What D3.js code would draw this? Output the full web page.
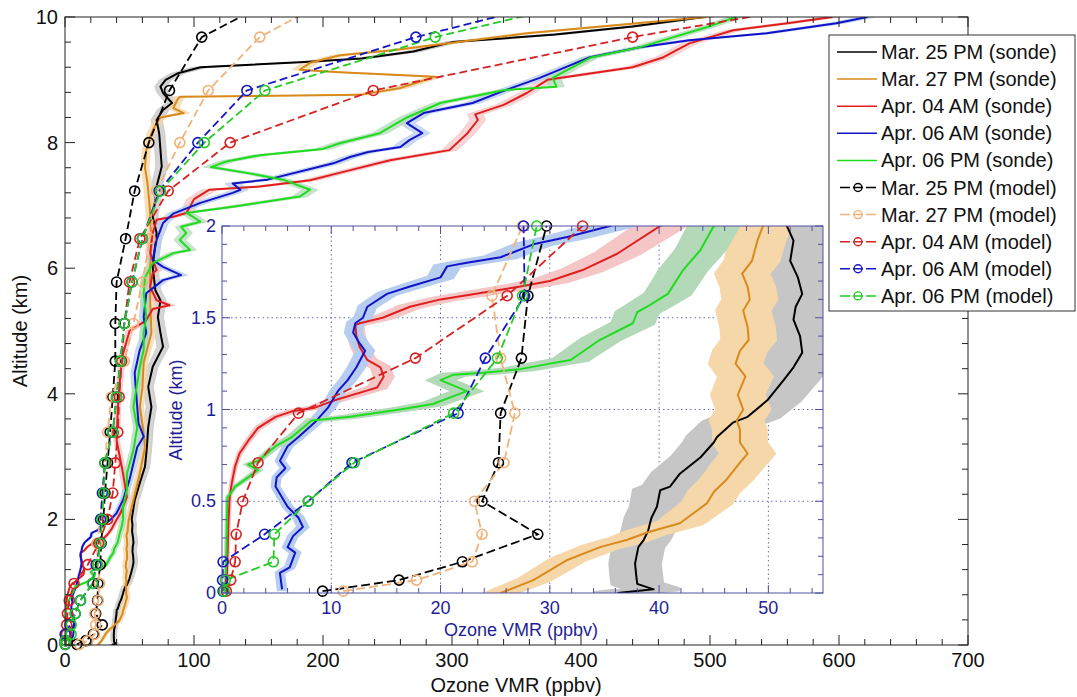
<!DOCTYPE html>
<html><head><meta charset="utf-8">
<script src="https://cdn.jsdelivr.net/npm/d3@7"></script>
<style>
body{margin:0;background:#fff;}
svg{display:block;}
text{font-family:"Liberation Sans",Arial,sans-serif;}
</style>
</head><body>
<svg id="c" width="1077" height="697"></svg>
<script>
// ---------------- DATA ----------------
const sondeNames = ["Mar. 25 PM (sonde)","Mar. 27 PM (sonde)","Apr. 04 AM (sonde)","Apr. 06 AM (sonde)","Apr. 06 PM (sonde)"];
const modelNames = ["Mar. 25 PM (model)","Mar. 27 PM (model)","Apr. 04 AM (model)","Apr. 06 AM (model)","Apr. 06 PM (model)"];

// sonde profiles: [altitude km, ozone ppbv]
const sondeMar25PM = [[0,36.2],[0.02,39.5],[0.05,38],[0.1,37.9],[0.16,37.8],[0.25,38.1],[0.29,38.6],[0.34,39],[0.41,39.3],[0.47,39.8],[0.56,40.1],[0.58,41],[0.65,41.9],[0.74,43.8],[0.82,45],[0.85,45.3],[0.93,46.8],[0.96,48.1],[1.05,49.9],[1.16,51.4],[1.23,52.3],[1.31,53.1],[1.4,52.9],[1.49,52.3],[1.56,52.5],[1.63,53.1],[1.72,52.7],[1.81,52],[1.92,52.3],[2.0,51.7],[2.3,54],[2.58,58],[2.84,62],[3.15,63.5],[3.47,64.5],[3.79,67],[4.11,64.5],[4.43,68],[4.75,76],[4.97,74],[5.22,72],[5.49,74],[5.65,70],[6.02,68],[6.56,71],[6.82,68],[7.09,70],[7.3,71],[7.62,75],[7.88,74],[8.15,73],[8.36,71],[8.52,76],[8.63,83],[8.79,76],[8.89,74],[9.0,78],[9.1,87],[9.2,105],[9.28,182],[9.34,230],[9.45,270],[9.6,300],[9.72,380],[9.85,440],[10.0,495]];
const sondeMar27PM = [[0,25.5],[0.07,28.5],[0.18,31.6],[0.25,34.6],[0.29,37.1],[0.33,38.9],[0.38,41.9],[0.49,44.4],[0.55,45],[0.62,46.2],[0.71,47.4],[0.76,48.1],[0.82,47.4],[0.89,47.4],[0.94,47.1],[1.0,47.7],[1.08,47.2],[1.18,47.9],[1.25,47.0],[1.32,47.4],[1.38,48.2],[1.45,48.1],[1.54,47.7],[1.6,48.3],[1.67,48.1],[1.74,47.6],[1.81,48.5],[1.92,49],[2.0,49.5],[2.3,53],[2.73,58],[3.15,62],[3.37,61],[3.79,58],[4.1,60],[4.5,61],[4.97,67],[5.5,66],[6.0,66],[6.4,67],[6.9,66],[7.35,64],[7.6,62],[7.88,63],[8.15,67],[8.31,71],[8.4,74],[8.47,92],[8.55,84],[8.68,87],[8.73,89],[8.76,229],[8.87,260],[9.05,287],[9.12,213],[9.16,182],[9.27,190],[9.39,213],[9.47,254],[9.74,358],[10.0,497]];
const sondeApr04AM = [[0,0.4],[0.2,0.5],[0.4,0.6],[0.52,0.7],[0.6,0.9],[0.69,1.2],[0.76,1.6],[0.83,2.4],[0.9,3.3],[0.96,4.9],[0.99,6.4],[1.01,8.5],[1.05,10.3],[1.1,13.1],[1.12,14.2],[1.18,14.8],[1.23,14.5],[1.27,13.3],[1.34,12.6],[1.4,12.3],[1.46,12.2],[1.47,12.6],[1.5,14.7],[1.56,17.2],[1.6,20],[1.67,27.3],[1.7,30],[1.76,33],[1.85,36.2],[2.0,40.1],[2.1,43],[2.36,48],[2.73,45],[3.26,40],[3.79,41],[4.33,43],[4.64,45],[5.0,50],[5.17,63],[5.35,68],[5.41,81],[5.49,71],[5.7,66],[5.92,68],[5.97,71],[6.24,66],[6.56,68],[6.77,71],[6.82,84],[6.88,94],[6.98,97],[7.1,100],[7.25,112],[7.3,151],[7.4,190],[7.53,215],[7.72,252],[7.88,298],[8.15,312],[8.36,320],[8.45,318],[8.6,340],[8.79,358],[9.0,374],[9.2,440],[9.36,464],[9.58,484],[9.79,518],[9.9,560],[10.0,595]];
const sondeApr06AM = [[0.02,5.5],[0.11,5.3],[0.14,6.2],[0.22,6.7],[0.25,6.0],[0.31,6.5],[0.36,7.4],[0.41,7.0],[0.47,6.0],[0.58,4.9],[0.63,5.0],[0.68,5.8],[0.72,5.3],[0.8,6.0],[0.85,7.0],[0.93,8.5],[1.01,9.7],[1.1,10.6],[1.16,11.5],[1.23,12.3],[1.32,13.1],[1.36,12.6],[1.42,12],[1.47,12.2],[1.5,12.9],[1.56,13.3],[1.63,15.1],[1.67,17.2],[1.72,20],[1.78,20.6],[1.8,22.4],[1.83,25.5],[1.9,28.5],[1.94,31.6],[2.0,35.5],[2.1,40],[2.31,45],[2.63,50],[3.15,56],[3.32,61],[3.53,57],[3.79,56],[4.33,54],[4.7,58],[4.97,63],[5.22,61],[5.6,63],[5.81,76],[5.89,90],[6.02,76],[6.13,68],[6.45,71],[6.72,76],[6.87,84],[7.04,105],[7.2,130],[7.25,136],[7.35,130],[7.41,157],[7.67,208],[7.77,221],[7.85,235],[7.93,260],[8.04,267],[8.15,277],[8.31,265],[8.47,278],[8.63,316],[8.84,342],[9.03,368],[9.36,407],[9.52,446],[9.63,484],[9.74,544],[9.9,598],[10.0,622]];
const sondeApr06PM = [[0,0.3],[0.2,0.4],[0.4,0.45],[0.52,0.5],[0.58,1.2],[0.63,2.4],[0.67,3.3],[0.7,2.4],[0.72,3.3],[0.8,4.9],[0.85,6.4],[0.94,8.2],[0.96,11.7],[1.0,16.3],[1.03,19.3],[1.1,22.4],[1.16,20],[1.19,21.2],[1.2,23.9],[1.22,27.3],[1.25,30],[1.27,31.9],[1.38,34.6],[1.47,37.6],[1.53,38],[1.56,38.9],[1.63,40.8],[1.76,42.2],[1.87,43.8],[2.0,45],[2.2,45],[2.47,48],[2.73,48],[3.1,53],[3.47,56],[3.79,53],[4.17,56],[4.43,58],[4.7,61],[4.97,61],[5.22,63],[5.6,61],[5.85,62],[6.08,68],[6.24,84],[6.29,97],[6.45,89],[6.56,94],[6.66,90],[6.74,105],[6.82,99],[6.88,94],[6.98,130],[7.14,182],[7.25,190],[7.41,169],[7.51,143],[7.61,113],[7.7,125],[7.8,151],[7.9,200],[7.99,213],[8.15,244],[8.4,265],[8.63,291],[8.84,342],[8.89,381],[9.03,378],[9.35,407],[9.52,446],[9.84,498],[10.0,520]];
const sondeRelUncertainty = [0.06,0.05,0.055,0.055,0.05];
const sondeMaxUncertainty = 6; // ppbv

// model levels (km) and values (ppbv)
const modelLevels = [0.01,0.07,0.17,0.32,0.5,0.71,0.98,1.28,1.62,2.0,2.42,2.9,3.39,3.95,4.52,5.12,5.78,6.47,7.23,8.0,8.83,9.68,10.6];
const modelMar25PM = [9.2,16.2,22.0,28.9,23.8,25.3,25.5,27.4,28.0,29.7,31,33,35,37,39,39,40,47,54,65,81,106,192];
const modelMar27PM = [11.1,17.8,22.9,23.8,23.1,25.8,26.8,25.5,24.7,27.5,29,31,33,36,46,53,60,66,71,89,111,151,234];
const modelApr04AM = [0.4,0.8,1.2,1.3,1.9,3.3,7.0,17.7,26.1,33,37,39,41,42,44,46,50,58,80,128,239,440,700];
const modelApr06AM = [0.1,0.05,0.1,3.9,7.9,11.9,21.6,24.1,27.7,27.6,29,31,37,40,43,46,52,60,73,103,141,272,450];
const modelApr06PM = [0.2,0.3,4.7,4.8,7.9,12.1,21.2,25.2,27.5,28.8,30,31,37,40,43,46,52,60,74,108,155,287,477];

// ticks
const mainXTicks = [0,100,200,300,400,500,600,700];
const mainYTicks = [0,2,4,6,8,10];
const insetXTicks = [0,10,20,30,40,50];
const insetYTicks = [0,0.5,1,1.5,2];
const insetYTickLabels = ["0","0.5","1","1.5","2"];

// ---------------- STYLE ----------------
const sondeColors = ["#000000","#d98a1c","#e01e1e","#1212c8","#1fdc1f"];
const bandColors  = ["#c6c6c6","#f6d7aa","#f5c6c6","#b6cdf0","#b3d9b9"];
const modelColors = ["#000000","#f2b27a","#d62222","#1616c8","#22cc22"];
const insetInk = "#1e1e96";
const insetFrame = "#5050a0";

const sondeSeries = [sondeMar25PM,sondeMar27PM,sondeApr04AM,sondeApr06AM,sondeApr06PM];
const modelSeries = [modelMar25PM,modelMar27PM,modelApr04AM,modelApr06AM,modelApr06PM];

const svg = d3.select("#c");
const defs = svg.append("defs");

const mx = d3.scaleLinear().domain([0,700]).range([65,968]);
const my = d3.scaleLinear().domain([0,10]).range([645,17]);
const ix = d3.scaleLinear().domain([0,55]).range([222,823]);
const iy = d3.scaleLinear().domain([0,2]).range([593,226]);

function addClip(id, xs, ys){
  defs.append("clipPath").attr("id",id).append("rect")
    .attr("x",xs.range()[0]).attr("y",ys.range()[1])
    .attr("width",xs.range()[1]-xs.range()[0]).attr("height",ys.range()[0]-ys.range()[1]);
}
addClip("clipMain",mx,my);
addClip("clipInset",ix,iy);

function drawData(g, xs, ys, clipId, opt){
  const gc = g.append("g").attr("clip-path",`url(#${clipId})`);
  sondeSeries.forEach((s,i)=>{
    const u = sondeRelUncertainty[i];
    const hw = v => Math.min(v*u, sondeMaxUncertainty);
    const area = d3.area().y(d=>ys(d[0])).x0(d=>xs(d[1]-hw(d[1]))).x1(d=>xs(d[1]+hw(d[1])));
    gc.append("path").attr("d",area(s)).attr("fill",bandColors[i]).attr("fill-opacity",opt.bandOp)
      .attr("stroke",bandColors[i]).attr("stroke-opacity",opt.bandOp).attr("stroke-width",opt.bandPad);
  });
  const line = d3.line().x(d=>xs(d[1])).y(d=>ys(d[0]));
  sondeSeries.forEach((s,i)=>{
    gc.append("path").attr("d",line(s)).attr("fill","none")
      .attr("stroke",sondeColors[i]).attr("stroke-width",opt.sw).attr("stroke-linejoin","round");
  });
  modelSeries.forEach((vals,i)=>{
    const pts = modelLevels.map((a,k)=>[a,vals[k]]);
    gc.append("path").attr("d",line(pts)).attr("fill","none")
      .attr("stroke",modelColors[i]).attr("stroke-width",opt.msw).attr("stroke-dasharray",opt.dash);
    g.append("g").selectAll("circle")
      .data(pts.filter(d=>d[0]<=ys.domain()[1]+1e-9 && d[1]<=xs.domain()[1]))
      .join("circle").attr("cx",d=>xs(d[1])).attr("cy",d=>ys(d[0])).attr("r",opt.r)
      .attr("fill","none").attr("stroke",modelColors[i]).attr("stroke-width",opt.csw);
  });
}

// ---------- MAIN PANEL ----------
const gMain = svg.append("g");
drawData(gMain, mx, my, "clipMain", {sw:2, msw:1.8, dash:"8,4", r:5, csw:1.6, bandPad:1, bandOp:0.75});

function range(a,b,s){const r=[];for(let v=a;v<=b+1e-9;v+=s)r.push(+v.toFixed(4));return r;}

function ticks(g, xs, ys, majX, minX, majY, minY, lenMaj, lenMin, color){
  const [x0,x1]=xs.range(), [y0,y1]=ys.range();
  const tg = g.append("g").attr("stroke",color).attr("stroke-width",1);
  [[majX,lenMaj],[minX,lenMin]].forEach(([vals,len])=>{
    vals.forEach(v=>{
      const x=xs(v);
      tg.append("line").attr("x1",x).attr("x2",x).attr("y1",y0).attr("y2",y0-len);
      tg.append("line").attr("x1",x).attr("x2",x).attr("y1",y1).attr("y2",y1+len);
    });
  });
  [[majY,lenMaj],[minY,lenMin]].forEach(([vals,len])=>{
    vals.forEach(v=>{
      const y=ys(v);
      tg.append("line").attr("y1",y).attr("y2",y).attr("x1",x0).attr("x2",x0+len);
      tg.append("line").attr("y1",y).attr("y2",y).attr("x1",x1).attr("x2",x1-len);
    });
  });
  g.append("rect").attr("x",x0).attr("y",y1).attr("width",x1-x0).attr("height",y0-y1)
    .attr("fill","none").attr("stroke",color).attr("stroke-width",1);
}
ticks(gMain, mx, my, mainXTicks, range(0,700,20).filter(v=>v%100), mainYTicks, range(0,10,0.4).filter(v=>Math.abs(v/2-Math.round(v/2))>1e-6), 10, 6, "#222");

gMain.append("g").selectAll("text").data(mainXTicks).join("text")
  .attr("x",d=>mx(d)).attr("y",667).attr("text-anchor","middle").attr("font-size",20).attr("fill","#111").text(d=>d);
gMain.append("g").selectAll("text").data(mainYTicks).join("text")
  .attr("x",58).attr("y",d=>my(d)+7).attr("text-anchor","end").attr("font-size",20).attr("fill","#111").text(d=>d);
gMain.append("text").attr("x",516).attr("y",692).attr("text-anchor","middle").attr("font-size",20).attr("fill","#111").text("Ozone VMR (ppbv)");
gMain.append("text").attr("transform","translate(27,331) rotate(-90)").attr("text-anchor","middle").attr("font-size",20).attr("fill","#111").text("Altitude (km)");

// ---------- INSET ----------
const gIn = svg.append("g");
gIn.append("rect").attr("x",222).attr("y",226).attr("width",601).attr("height",367).attr("fill","#fff");
const grid = gIn.append("g").attr("stroke","#6a6ab4").attr("stroke-width",1).attr("stroke-dasharray","1.5,3");
insetXTicks.filter(v=>v>0).forEach(v=>grid.append("line").attr("x1",ix(v)).attr("x2",ix(v)).attr("y1",iy(0)).attr("y2",iy(2)));
insetYTicks.filter(v=>v>0&&v<2).forEach(v=>grid.append("line").attr("y1",iy(v)).attr("y2",iy(v)).attr("x1",ix(0)).attr("x2",ix(55)));
drawData(gIn, ix, iy, "clipInset", {sw:2, msw:1.8, dash:"9,4", r:5, csw:1.6, bandPad:4, bandOp:1});
ticks(gIn, ix, iy, insetXTicks, range(0,54,2).filter(v=>v%10), insetYTicks, range(0,2,0.1).filter(v=>Math.abs(v*2-Math.round(v*2))>1e-6), 8, 5, insetFrame);

gIn.append("g").selectAll("text").data(insetXTicks).join("text")
  .attr("x",d=>ix(d)).attr("y",614).attr("text-anchor","middle").attr("font-size",18).attr("fill",insetInk).text(d=>d);
gIn.append("g").selectAll("text").data(insetYTicks).join("text")
  .attr("x",216).attr("y",d=>iy(d)+6).attr("text-anchor","end").attr("font-size",18).attr("fill",insetInk).text((d,i)=>insetYTickLabels[i]);
gIn.append("text").attr("x",521).attr("y",636).attr("text-anchor","middle").attr("font-size",18).attr("fill",insetInk).text("Ozone VMR (ppbv)");
gIn.append("text").attr("transform","translate(182,410) rotate(-90)").attr("text-anchor","middle").attr("font-size",18).attr("fill",insetInk).text("Altitude (km)");

// ---------- LEGEND ----------
const lg = svg.append("g");
lg.append("rect").attr("x",829).attr("y",35).attr("width",246).attr("height",276).attr("fill","#fff").attr("stroke","#333").attr("stroke-width",1);
const allNames = sondeNames.concat(modelNames);
allNames.forEach((name,k)=>{
  const y = 52 + k*27.1;
  if(k<5){
    lg.append("line").attr("x1",837).attr("x2",877).attr("y1",y).attr("y2",y).attr("stroke",sondeColors[k]).attr("stroke-width",1.5);
  } else {
    const c = modelColors[k-5];
    lg.append("line").attr("x1",840).attr("x2",876).attr("y1",y).attr("y2",y).attr("stroke",c).attr("stroke-width",1.5).attr("stroke-dasharray","10,3");
    lg.append("circle").attr("cx",858).attr("cy",y).attr("r",4).attr("fill","none").attr("stroke",c).attr("stroke-width",1.4);
  }
  lg.append("text").attr("x",881).attr("y",y+7).attr("font-size",20).attr("fill","#111").text(name);
});
</script>
</body></html>
